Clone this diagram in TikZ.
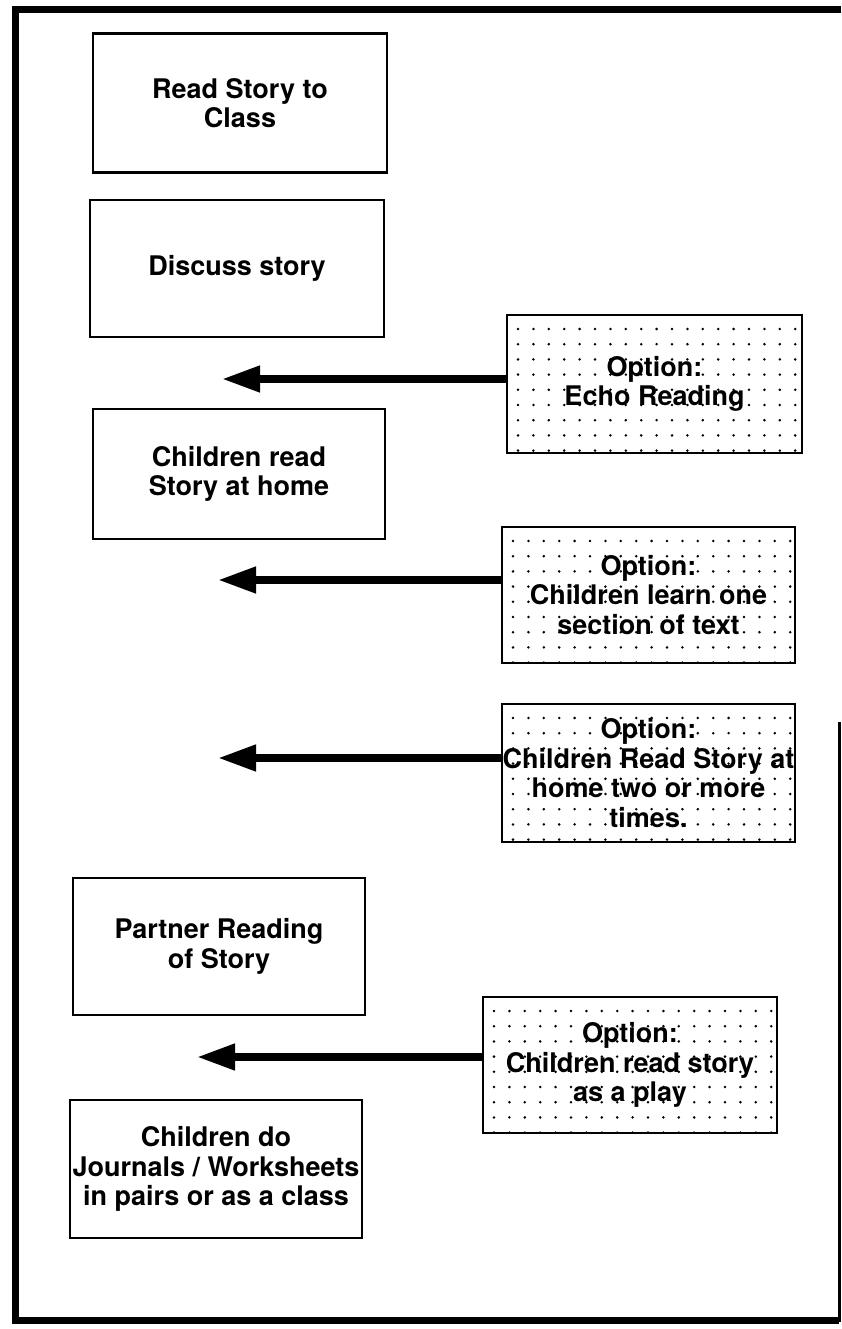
\documentclass[tikz,border=0pt]{standalone}
\usepackage{fontspec}
\setmainfont{TeX Gyre Heros}
\usetikzlibrary{arrows.meta}
\tikzset{
  stepbox/.style={draw=black, line width=2.6pt, align=center, inner sep=0pt,
    font=\fontsize{27}{29.5}\selectfont\bfseries},
  optbox/.style={stepbox},
  bigarrow/.style={line width=7.5pt, -{Triangle[length=38pt,width=25pt]}},
  frame/.style={line width=7pt},
}
\newcommand{\dotgrid}[4]{%
  \begin{scope}
    \clip (#1,#2) rectangle ++(#3,#4);
    \foreach \i in {0,...,20}{
      \foreach \j in {0,...,9}{
        \fill ({#1+11+15.4*\i},{#2+14+15.2*\j}) circle (1.4pt);
      }
    }
  \end{scope}}
\begin{document}
\begin{tikzpicture}[x=1pt,y=-1pt]
\useasboundingbox (0,0) rectangle (841,1329);
% outer frame
\draw[frame] (841,10) -- (15,10) -- (15,1320) -- (839,1320);
\draw[line width=3pt] (839,1322) -- (839,722);
% dot fills of option boxes
\dotgrid{507}{315}{295}{138}
\dotgrid{502}{527}{293}{136}
\dotgrid{502}{704}{293}{138}
\dotgrid{483}{997}{294}{136}
% main steps
\node[stepbox, minimum width=294pt, minimum height=139pt] (b1) at (240,103) {Read Story to\\Class};
\node[stepbox, minimum width=294pt, minimum height=137pt] (b2) at (237,268.5) {Discuss story};
\node[stepbox, minimum width=292pt, minimum height=130pt] (b3) at (239,474) {Children read\\Story at home};
\node[stepbox, minimum width=292pt, minimum height=137pt] (b4) at (219,946.5) {Partner Reading\\of Story};
\node[stepbox, minimum width=292pt, minimum height=138pt] (b5) at (216,1169) {Children do\\Journals / Worksheets\\in pairs or as a class};
% options
\node[optbox, minimum width=295pt, minimum height=138pt] (o1) at (654.5,384) {Option:\\Echo Reading};
\node[optbox, minimum width=293pt, minimum height=136pt] (o2) at (648.5,595) {Option:\\Children learn one\\section of text};
\node[optbox, minimum width=293pt, minimum height=138pt] (o3) at (648.5,773) {Option:\\Children Read Story at\\home two or more\\times.};
\node[optbox, minimum width=294pt, minimum height=136pt] (o4) at (630,1065) {Option:\\Children read story\\as a play};
% arrow tips
\coordinate (t1) at (222,379);
\coordinate (t2) at (218,580);
\coordinate (t3) at (218,758);
\coordinate (t4) at (197,1057);
\draw[bigarrow] (t1 -| o1.west) -- (t1);
\draw[bigarrow] (t2 -| o2.west) -- (t2);
\draw[bigarrow] (t3 -| o3.west) -- (t3);
\draw[bigarrow] (t4 -| o4.west) -- (t4);
\end{tikzpicture}
\end{document}
